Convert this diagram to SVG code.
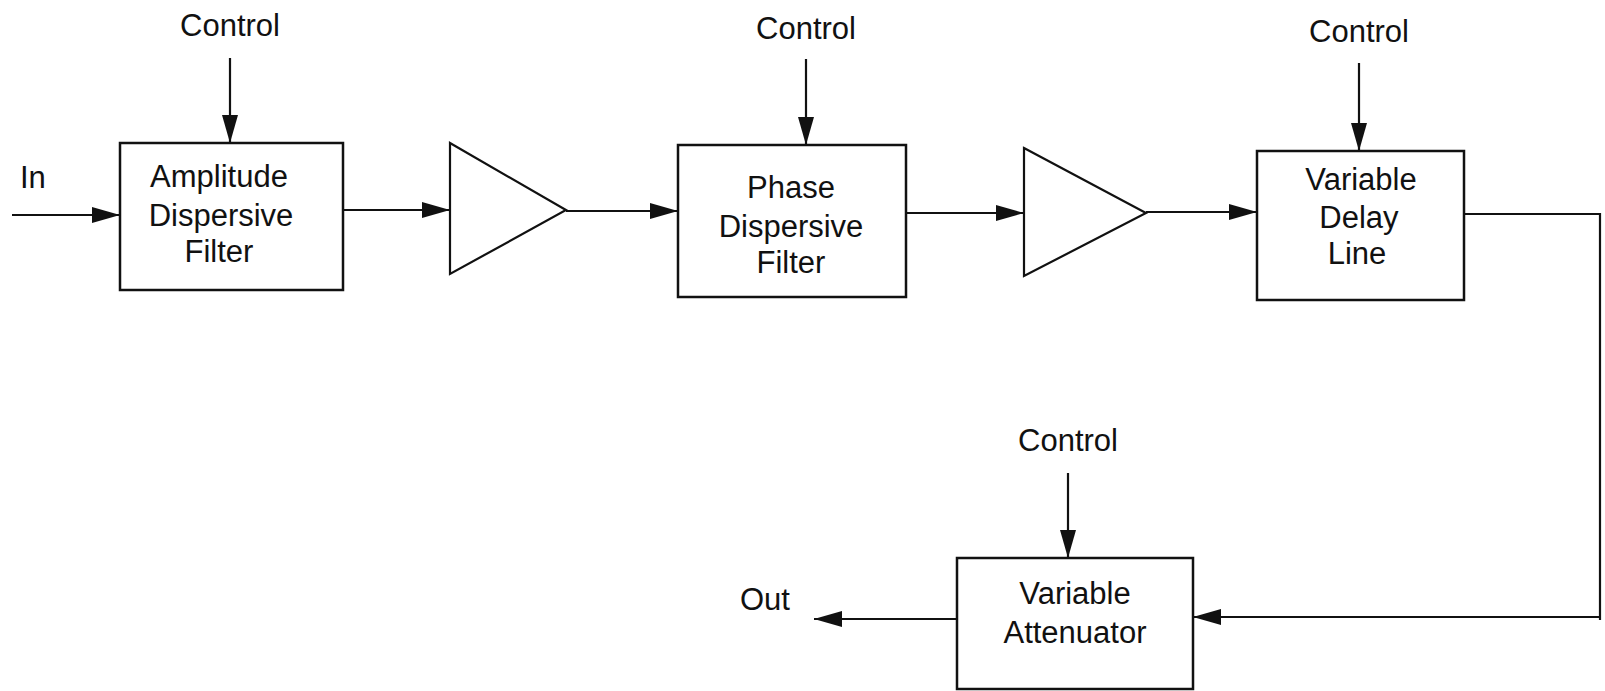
<svg xmlns="http://www.w3.org/2000/svg" width="1605" height="691" viewBox="0 0 1605 691">
<style>
  .box{fill:none;stroke:#111;stroke-width:2.5}
  .amp{fill:none;stroke:#111;stroke-width:2.2;stroke-linejoin:miter}
  .wire{fill:none;stroke:#111;stroke-width:2.2}
  text{font-family:"Liberation Sans",Arial,sans-serif;font-size:31px;fill:#111;text-anchor:middle}
  .lbl{text-anchor:start}
</style>
<defs>
  <marker id="ah" markerUnits="userSpaceOnUse" markerWidth="30" markerHeight="18" refX="28" refY="9" orient="auto">
    <path d="M0,1 L28,9 L0,17 Z" fill="#111"/>
  </marker>
</defs>
<rect width="1605" height="691" fill="#fff"/>

<g id="connectors">
  <path class="wire" d="M12,215 H120" marker-end="url(#ah)"/>
  <path class="wire" d="M230,58 V143" marker-end="url(#ah)"/>
  <path class="wire" d="M343,210 H450" marker-end="url(#ah)"/>
  <path class="wire" d="M566,211 H678" marker-end="url(#ah)"/>
  <path class="wire" d="M806,59 V145" marker-end="url(#ah)"/>
  <path class="wire" d="M906,213 H1024" marker-end="url(#ah)"/>
  <path class="wire" d="M1146,212 H1257" marker-end="url(#ah)"/>
  <path class="wire" d="M1359,63 V151" marker-end="url(#ah)"/>
  <path class="wire" d="M1464,214 H1600 V620"/>
  <path class="wire" d="M1600,617 H1193" marker-end="url(#ah)"/>
  <path class="wire" d="M1068,473 V558" marker-end="url(#ah)"/>
  <path class="wire" d="M957,619 H814" marker-end="url(#ah)"/>
</g>

<g id="in-label"><text class="lbl" x="20" y="188">In</text></g>
<g id="out-label"><text class="lbl" x="740" y="610">Out</text></g>

<g id="control1"><text x="230" y="36">Control</text></g>
<g id="control2"><text x="806" y="39">Control</text></g>
<g id="control3"><text x="1359" y="42">Control</text></g>
<g id="control4"><text x="1068" y="451">Control</text></g>

<g id="amplitude-filter">
  <rect class="box" x="120" y="143" width="223" height="147"/>
  <text x="219" y="187">Amplitude</text>
  <text x="221" y="226">Dispersive</text>
  <text x="219" y="262">Filter</text>
</g>

<g id="amp1">
  <path class="amp" d="M450,143 L566,210 L450,274 Z"/>
</g>

<g id="phase-filter">
  <rect class="box" x="678" y="145" width="228" height="152"/>
  <text x="791" y="198">Phase</text>
  <text x="791" y="237">Dispersive</text>
  <text x="791" y="273">Filter</text>
</g>

<g id="amp2">
  <path class="amp" d="M1024,148 L1146,213 L1024,276 Z"/>
</g>

<g id="delay-line">
  <rect class="box" x="1257" y="151" width="207" height="149"/>
  <text x="1361" y="190">Variable</text>
  <text x="1359" y="228">Delay</text>
  <text x="1357" y="264">Line</text>
</g>

<g id="attenuator">
  <rect class="box" x="957" y="558" width="236" height="131"/>
  <text x="1075" y="604">Variable</text>
  <text x="1075" y="643">Attenuator</text>
</g>
</svg>
